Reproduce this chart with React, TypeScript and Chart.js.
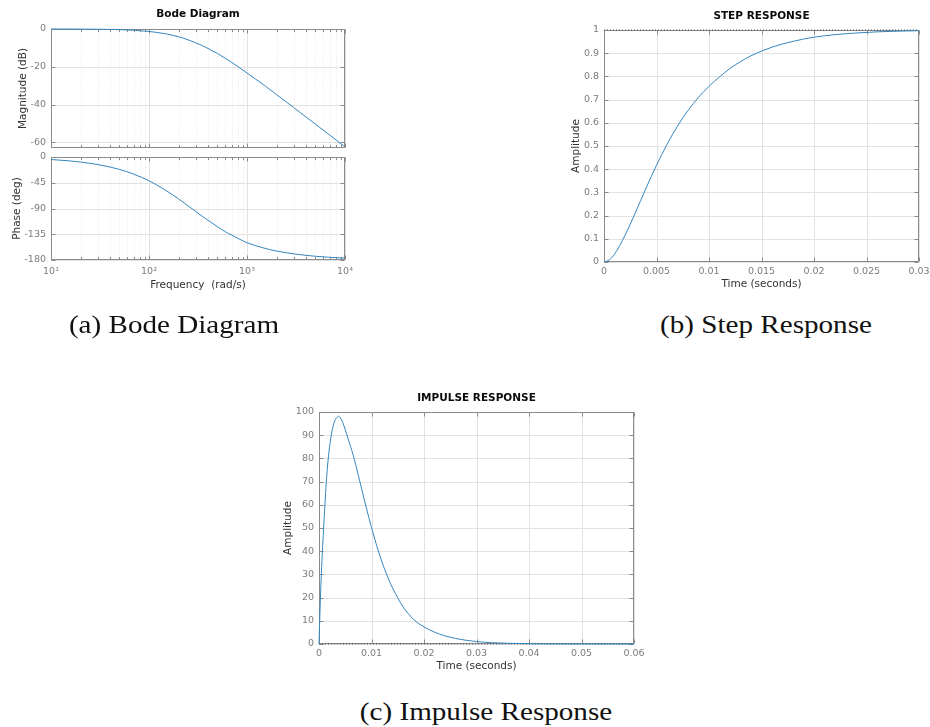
import { useEffect, useRef } from 'react';
import { Chart, registerables } from 'chart.js';
import type { ChartConfiguration, Plugin } from 'chart.js';

Chart.register(...registerables);

// ---------- Bode diagram ----------
const bodeFreq = [10, 15, 20, 30, 40, 50, 70, 100, 120, 150, 200, 250, 300, 350, 400, 500, 600, 700, 850, 1000, 1500, 2000, 3000, 4000, 5000, 7000, 10000];
const bodeMagDb = [0, -0.03, -0.06, -0.13, -0.22, -0.35, -0.66, -1.3, -1.8, -2.6, -4.1, -5.7, -7.3, -8.8, -10.3, -13.0, -15.5, -17.7, -20.7, -23.3, -29.8, -34.7, -41.6, -46.6, -50.4, -56.2, -62.4];
const bodePhaseDeg = [-4.4, -6.6, -8.8, -13.2, -17.5, -21.7, -30.0, -41.6, -48.8, -58.8, -73.2, -85.2, -95.2, -103.6, -110.6, -121.8, -130.6, -136.6, -144.0, -149.8, -159.3, -164.3, -169.3, -171.9, -173.5, -175.3, -176.7];
const bodeFreqTicks = [10, 100, 1000, 10000];
const bodeFreqTickLabels = ['10¹', '10²', '10³', '10⁴'];
const bodeFreqMinor = [20, 30, 40, 50, 60, 70, 80, 90, 200, 300, 400, 500, 600, 700, 800, 900, 2000, 3000, 4000, 5000, 6000, 7000, 8000, 9000];
const bodeMagTicks = [-60, -40, -20, 0];
const bodeMagTickLabels = ['-60', '-40', '-20', '0'];
const bodePhaseTicks = [-180, -135, -90, -45, 0];
const bodePhaseTickLabels = ['-180', '-135', '-90', '-45', '0'];

// ---------- Step response ----------
const stepTime = [0, 0.0005, 0.001, 0.0015, 0.002, 0.0025, 0.003, 0.0035, 0.004, 0.0045, 0.005, 0.0055, 0.006, 0.0065, 0.007, 0.0075, 0.008, 0.009, 0.01, 0.011, 0.012, 0.013, 0.014, 0.015, 0.016, 0.017, 0.018, 0.019, 0.02, 0.022, 0.024, 0.026, 0.028, 0.03];
const stepAmp = [0, 0.009, 0.034, 0.071, 0.115, 0.163, 0.214, 0.266, 0.318, 0.368, 0.417, 0.463, 0.507, 0.548, 0.586, 0.621, 0.653, 0.71, 0.757, 0.798, 0.834, 0.864, 0.889, 0.909, 0.926, 0.94, 0.951, 0.961, 0.969, 0.98, 0.987, 0.992, 0.995, 0.997];
const stepFinalTime = [0, 0.03];
const stepFinalAmp = [1, 1];
const stepTimeTicks = [0, 0.005, 0.01, 0.015, 0.02, 0.025, 0.03];
const stepTimeTickLabels = ['0', '0.005', '0.01', '0.015', '0.02', '0.025', '0.03'];
const stepAmpTicks = [0, 0.1, 0.2, 0.3, 0.4, 0.5, 0.6, 0.7, 0.8, 0.9, 1];
const stepAmpTickLabels = ['0', '0.1', '0.2', '0.3', '0.4', '0.5', '0.6', '0.7', '0.8', '0.9', '1'];

// ---------- Impulse response ----------
const impulseTime = [0, 0.0001, 0.00025, 0.0005, 0.00075, 0.001, 0.0015, 0.002, 0.0025, 0.003, 0.0035, 0.0037, 0.004, 0.0045, 0.005, 0.0055, 0.006, 0.0065, 0.007, 0.0075, 0.008, 0.0085, 0.009, 0.01, 0.011, 0.012, 0.013, 0.014, 0.015, 0.016, 0.017, 0.018, 0.019, 0.02, 0.022, 0.024, 0.026, 0.028, 0.03, 0.033, 0.036, 0.04, 0.045, 0.05, 0.055, 0.06];
const impulseAmp = [0, 7.6, 18.5, 33, 44.5, 55, 73.3, 84.8, 92.0, 96.2, 97.9, 98.2, 97.7, 95.6, 92.4, 88.8, 85.2, 81.5, 77.2, 72.6, 68.0, 63.3, 58.8, 50.2, 42.3, 35.3, 29.3, 24.2, 19.9, 16.0, 13.1, 10.6, 8.8, 7.4, 5.1, 3.5, 2.4, 1.6, 1.05, 0.55, 0.3, 0.13, 0.05, 0.02, 0.01, 0];
const impulseFinalTime = [0, 0.06];
const impulseFinalAmp = [0, 0];
const impulseTimeTicks = [0, 0.01, 0.02, 0.03, 0.04, 0.05, 0.06];
const impulseTimeTickLabels = ['0', '0.01', '0.02', '0.03', '0.04', '0.05', '0.06'];
const impulseAmpTicks = [0, 10, 20, 30, 40, 50, 60, 70, 80, 90, 100];
const impulseAmpTickLabels = ['0', '10', '20', '30', '40', '50', '60', '70', '80', '90', '100'];

// ---------- styling ----------
const FONT = '"DejaVu Sans", sans-serif';
const TICK_SIZE = 9.5;
const LABEL_SIZE = 10.5;
const LH = 1.2;
const TICK_COLOR = '#7c7c7c';
const LABEL_COLOR = '#333333';
const GRID_COLOR = '#e2e2e2';
const MINOR_COLOR = '#e6e6e6';
const BOX_COLOR = '#8a8a8a';
const CURVE_COLOR = '#3586bf';

type Rect = { left: number; top: number; width: number; height: number };
type Area = { left: number; top: number; right: number; bottom: number };

interface AxisSpec {
  type: 'linear' | 'logarithmic';
  min: number;
  max: number;
  ticks: number[];
  labels?: string[];
  labelPad?: number;
  title?: string;
  titleAt?: number;
  minor?: number[];
}

interface Series {
  x: number[];
  y: number[];
  dotted?: boolean;
}

interface PanelSpec {
  box: Rect;
  area: Area;
  title?: string;
  titleY?: number;
  x: AxisSpec;
  y: AxisSpec;
  series: Series[];
}

interface FrameOptions {
  xMajor: number[];
  yMajor: number[];
  xMinor?: number[];
}

// MATLAB-style axes: light grid, dotted minor grid, grey box and inward ticks on all sides
const matlabFrame: Plugin<'line'> = {
  id: 'matlabFrame',
  beforeDatasetsDraw(chart, _args, opts) {
    const o = opts as unknown as FrameOptions;
    const { ctx, chartArea: a } = chart;
    const xs = chart.scales.x;
    const ys = chart.scales.y;
    const px = (v: number) => Math.round(xs.getPixelForValue(v)) + 0.5;
    const py = (v: number) => Math.round(ys.getPixelForValue(v)) + 0.5;
    const L = Math.round(a.left) + 0.5;
    const R = Math.round(a.right) - 0.5;
    const T = Math.round(a.top) + 0.5;
    const B = Math.round(a.bottom) - 0.5;
    ctx.save();
    ctx.lineWidth = 1;

    if (o.xMinor && o.xMinor.length) {
      ctx.strokeStyle = MINOR_COLOR;
      ctx.setLineDash([1, 2]);
      ctx.beginPath();
      for (const v of o.xMinor) {
        const p = px(v);
        ctx.moveTo(p, T);
        ctx.lineTo(p, B);
      }
      ctx.stroke();
      ctx.setLineDash([]);
    }

    ctx.strokeStyle = GRID_COLOR;
    ctx.beginPath();
    for (const v of o.xMajor) {
      const p = px(v);
      ctx.moveTo(p, T);
      ctx.lineTo(p, B);
    }
    for (const v of o.yMajor) {
      const p = py(v);
      ctx.moveTo(L, p);
      ctx.lineTo(R, p);
    }
    ctx.stroke();

    ctx.strokeStyle = BOX_COLOR;
    ctx.strokeRect(L, T, R - L, B - T);

    const major = 4;
    const minor = 2.5;
    ctx.beginPath();
    for (const v of o.xMajor) {
      const p = px(v);
      ctx.moveTo(p, B);
      ctx.lineTo(p, B - major);
      ctx.moveTo(p, T);
      ctx.lineTo(p, T + major);
    }
    for (const v of o.xMinor || []) {
      const p = px(v);
      ctx.moveTo(p, B);
      ctx.lineTo(p, B - minor);
      ctx.moveTo(p, T);
      ctx.lineTo(p, T + minor);
    }
    for (const v of o.yMajor) {
      const p = py(v);
      ctx.moveTo(L, p);
      ctx.lineTo(L + major, p);
      ctx.moveTo(R, p);
      ctx.lineTo(R - major, p);
    }
    ctx.stroke();
    ctx.restore();
  },
};

function buildConfig(p: PanelSpec): ChartConfiguration<'line'> {
  const { box, area } = p;
  const lh = LABEL_SIZE * LH;
  const yWidth = area.left - box.left;
  const xHeight = box.top + box.height - area.bottom;
  const rightPad = box.left + box.width - area.right;
  const topSpace = area.top - box.top;
  const titlePadTop = p.title && p.titleY !== undefined ? p.titleY - box.top - lh / 2 : 0;

  const tickFont = { family: FONT, size: TICK_SIZE, lineHeight: LH };
  const labelFont = { family: FONT, size: LABEL_SIZE, lineHeight: LH };

  const xAxis = p.x;
  const yAxis = p.y;

  return {
    type: 'line',
    data: {
      datasets: p.series.map((s) => ({
        data: s.x.map((x, i) => ({ x, y: s.y[i] })),
        borderColor: s.dotted ? '#4a4a4a' : CURVE_COLOR,
        borderWidth: 1,
        borderDash: s.dotted ? [1, 2] : [],
        pointRadius: 0,
        fill: false,
        cubicInterpolationMode: s.dotted ? 'default' : 'monotone',
        clip: 2,
      })),
    },
    options: {
      responsive: false,
      animation: false,
      devicePixelRatio: 1,
      events: [],
      layout: {
        padding: { left: 0, right: rightPad, top: p.title ? 0 : topSpace, bottom: 0 },
      },
      plugins: {
        legend: { display: false },
        tooltip: { enabled: false },
        title: {
          display: !!p.title,
          text: p.title || '',
          color: '#0a0a0a',
          fullSize: false,
          font: { family: FONT, size: LABEL_SIZE, weight: 'bold', lineHeight: LH },
          padding: { top: titlePadTop, bottom: topSpace - titlePadTop - lh },
        },
        matlabFrame: {
          xMajor: xAxis.ticks,
          yMajor: yAxis.ticks,
          xMinor: xAxis.minor,
        },
      } as any,
      scales: {
        x: {
          type: xAxis.type,
          position: 'bottom',
          min: xAxis.min,
          max: xAxis.max,
          grid: { display: false, drawTicks: false },
          border: { display: false },
          ticks: {
            display: !!xAxis.labels,
            autoSkip: false,
            maxRotation: 0,
            minRotation: 0,
            padding: xAxis.labelPad ?? 4,
            font: tickFont,
            color: TICK_COLOR,
            callback: (_v: unknown, i: number) => (xAxis.labels ? xAxis.labels[i] : ''),
          },
          title: xAxis.title
            ? {
                display: true,
                text: xAxis.title,
                color: LABEL_COLOR,
                font: labelFont,
                padding: { top: 0, bottom: box.top + box.height - (xAxis.titleAt as number) - lh / 2 },
              }
            : { display: false },
          afterBuildTicks: (s: any) => {
            s.ticks = xAxis.ticks.map((v) => ({ value: v }));
          },
          afterFit: (s: any) => {
            s.height = xHeight;
            s.paddingLeft = 0;
            s.paddingRight = 0;
          },
        } as any,
        y: {
          type: yAxis.type,
          position: 'left',
          min: yAxis.min,
          max: yAxis.max,
          grid: { display: false, drawTicks: false },
          border: { display: false },
          ticks: {
            display: !!yAxis.labels,
            autoSkip: false,
            padding: yAxis.labelPad ?? 5,
            font: tickFont,
            color: TICK_COLOR,
            callback: (_v: unknown, i: number) => (yAxis.labels ? yAxis.labels[i] : ''),
          },
          title: yAxis.title
            ? {
                display: true,
                text: yAxis.title,
                color: LABEL_COLOR,
                font: labelFont,
                padding: { top: (yAxis.titleAt as number) - box.left - lh / 2, bottom: 0 },
              }
            : { display: false },
          afterBuildTicks: (s: any) => {
            s.ticks = yAxis.ticks.map((v) => ({ value: v }));
          },
          afterFit: (s: any) => {
            s.width = yWidth;
            s.paddingTop = 0;
            s.paddingBottom = 0;
          },
        } as any,
      },
    },
    plugins: [matlabFrame],
  };
}

const panels: PanelSpec[] = [
  {
    box: { left: 0, top: 0, width: 360, height: 160 },
    area: { left: 51, top: 29, right: 345, bottom: 148 },
    title: 'Bode Diagram',
    titleY: 14.5,
    x: { type: 'logarithmic', min: 10, max: 10000, ticks: bodeFreqTicks, minor: bodeFreqMinor },
    y: { type: 'linear', min: -63, max: 0, ticks: bodeMagTicks, labels: bodeMagTickLabels, title: 'Magnitude (dB)', titleAt: 23.5 },
    series: [{ x: bodeFreq, y: bodeMagDb }],
  },
  {
    box: { left: 0, top: 150, width: 360, height: 150 },
    area: { left: 51, top: 157, right: 345, bottom: 260 },
    x: {
      type: 'logarithmic', min: 10, max: 10000, ticks: bodeFreqTicks, labels: bodeFreqTickLabels, minor: bodeFreqMinor,
      labelPad: 6, title: 'Frequency  (rad/s)', titleAt: 285,
    },
    y: { type: 'linear', min: -180, max: 0, ticks: bodePhaseTicks, labels: bodePhaseTickLabels, title: 'Phase (deg)', titleAt: 17.5 },
    series: [{ x: bodeFreq, y: bodePhaseDeg }],
  },
  {
    box: { left: 550, top: 0, width: 380, height: 300 },
    area: { left: 604, top: 30, right: 919, bottom: 262 },
    title: 'STEP RESPONSE',
    titleY: 16,
    x: { type: 'linear', min: 0, max: 0.03, ticks: stepTimeTicks, labels: stepTimeTickLabels, labelPad: 4, title: 'Time (seconds)', titleAt: 284.5 },
    y: { type: 'linear', min: 0, max: 1, ticks: stepAmpTicks, labels: stepAmpTickLabels, title: 'Amplitude', titleAt: 576 },
    series: [
      { x: stepTime, y: stepAmp },
      { x: stepFinalTime, y: stepFinalAmp, dotted: true },
    ],
  },
  {
    box: { left: 250, top: 380, width: 400, height: 300 },
    area: { left: 319, top: 412, right: 634, bottom: 644 },
    title: 'IMPULSE RESPONSE',
    titleY: 398,
    x: { type: 'linear', min: 0, max: 0.06, ticks: impulseTimeTicks, labels: impulseTimeTickLabels, labelPad: 4, title: 'Time (seconds)', titleAt: 666 },
    y: { type: 'linear', min: 0, max: 100, ticks: impulseAmpTicks, labels: impulseAmpTickLabels, title: 'Amplitude', titleAt: 288.5 },
    series: [
      { x: impulseTime, y: impulseAmp },
      { x: impulseFinalTime, y: impulseFinalAmp, dotted: true },
    ],
  },
];

const captions = [
  { text: '(a) Bode Diagram', cx: 174, baseline: 334 },
  { text: '(b) Step Response', cx: 765.5, baseline: 334 },
  { text: '(c) Impulse Response', cx: 486, baseline: 721 },
];

function Panel({ spec }: { spec: PanelSpec }) {
  const ref = useRef<HTMLCanvasElement>(null);
  useEffect(() => {
    if (!ref.current) return;
    const chart = new Chart(ref.current, buildConfig(spec));
    return () => chart.destroy();
  }, [spec]);
  const { box } = spec;
  return (
    <canvas
      ref={ref}
      width={box.width}
      height={box.height}
      style={{ position: 'absolute', left: box.left, top: box.top, width: box.width, height: box.height }}
    />
  );
}

export default function App() {
  return (
    <div style={{ position: 'absolute', left: 0, top: 0, width: 930, height: 727, background: '#ffffff', overflow: 'hidden' }}>
      {panels.map((p, i) => (
        <Panel key={i} spec={p} />
      ))}
      {captions.map((c) => (
        <div
          key={c.text}
          style={{
            position: 'absolute',
            left: c.cx - 200,
            width: 400,
            top: c.baseline - 22,
            height: 30,
            textAlign: 'center',
            fontFamily: '"Liberation Serif", serif',
            fontSize: 26,
            lineHeight: '26px',
            color: '#111111',
            transform: 'scaleX(1.12)',
            transformOrigin: 'center',
            whiteSpace: 'nowrap',
          }}
        >
          {c.text}
        </div>
      ))}
    </div>
  );
}
